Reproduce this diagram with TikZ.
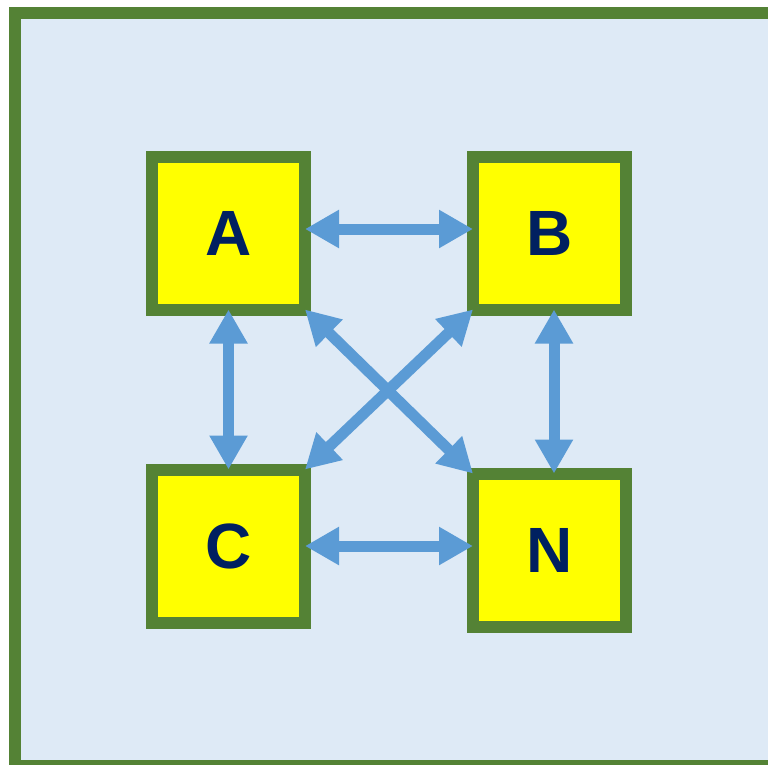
\documentclass[tikz,border=0pt]{standalone}
\usepackage{fontspec}
\setmainfont{Liberation Sans}
\usetikzlibrary{arrows.meta}
\definecolor{frameg}{HTML}{548235}
\definecolor{bgblue}{HTML}{DEEAF6}
\definecolor{boxy}{HTML}{FFFF00}
\definecolor{arrb}{HTML}{5B9BD5}
\definecolor{txtn}{HTML}{002060}
\tikzset{
  box/.style={draw=frameg, line width=12pt, fill=boxy, minimum size=153pt, inner sep=0pt, outer sep=0pt,
    text=txtn, font=\fontsize{64}{64}\selectfont\bfseries},
  link/.style={draw=arrb, line width=11pt, {Triangle[length=34pt,width=36pt]}-{Triangle[length=34pt,width=36pt]}}
}
\begin{document}
\begin{tikzpicture}[x=1pt,y=-1pt]
\useasboundingbox (0,0) rectangle (768,764);
\clip (0,0) rectangle (768,764);
\fill[white] (0,0) rectangle (768,764);
\draw[frameg, line width=12pt, fill=bgblue] (15,13) rectangle (800,766);
\node[box] (A) at (228.5,233) {A};
\node[box] (B) at (549.5,233) {B};
\node[box] (C) at (228.5,546) {C};
\node[box] (N) at (549.5,550) {N};
\draw[link] ([yshift=4pt]A.east) -- ([yshift=4pt]B.west);
\draw[link] (C.east) -- (C.east -| N.west);
\draw[link] (A.south) -- (C.north);
\draw[link] ([xshift=4.5pt]B.south) -- ([xshift=4.5pt]N.north);
\draw[link] (A.south east) -- (N.north west);
\draw[link] (B.south west) -- (C.north east);
\end{tikzpicture}
\end{document}
